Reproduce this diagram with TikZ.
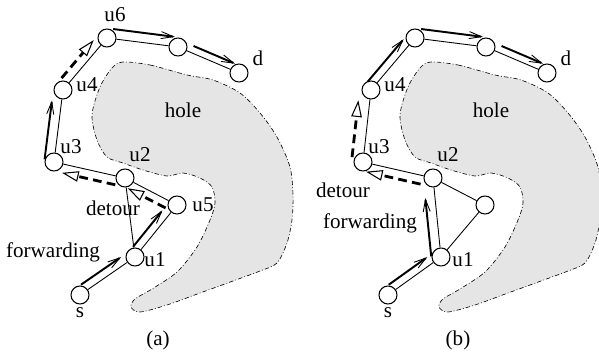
\documentclass[tikz,border=0pt]{standalone}
\usepackage{fontspec}
\setmainfont{Liberation Serif}
\usetikzlibrary{arrows.meta, calc}

\tikzset{
  sensor/.style={circle, draw, fill=white, line width=0.6pt, minimum size=0.36cm, inner sep=0pt},
  link/.style={line width=0.5pt},
  fwd/.style={line width=1.1pt, -{Straight Barb[length=7pt,width=4pt,line width=0.5pt]}},
  detourarrow/.style={line width=1.6pt, dash pattern=on 5pt off 3pt, -{Triangle[open,length=9.5pt,width=6pt,line width=0.6pt]}},
  holearea/.style={fill=black!10, draw, line width=0.35pt, dash pattern=on 2.5pt off 1.2pt on 0.5pt off 1.2pt},
  lbl/.style={font=\fontsize{12}{14}\selectfont, inner sep=0pt}
}

\begin{document}
\begin{tikzpicture}[x=0.02cm, y=-0.02cm]
  \useasboundingbox (0,0) rectangle (599,354);

  % (a) hole
  \draw[holearea] plot[smooth cycle] coordinates {(123,62) (150,65) (187,75) (213,80) (240,93) (260,113) (277,137) (290,167) (293,195) (292,220) (287,243) (277,263) (260,271) (233,281) (200,293) (167,305) (140,312) (131,307) (135,299) (152,289) (177,272) (197,247) (210,220) (215,203) (212,187) (200,178) (183,173) (167,176) (143,170) (123,163) (107,157) (97,140) (92,115) (100,87) (112,68)};

  % (a) nodes
  \node[sensor] (s-a) at (80,295) {};
  \node[sensor] (u1-a) at (135,257) {};
  \node[sensor] (u5-a) at (177,205) {};
  \node[sensor] (u2-a) at (125,178) {};
  \node[sensor] (u3-a) at (54,162) {};
  \node[sensor] (u4-a) at (63,90) {};
  \node[sensor] (u6-a) at (107,38) {};
  \node[sensor] (u7-a) at (178,47) {};
  \node[sensor] (d-a) at (239,73) {};

  % (a) links
  \draw[link] (s-a) -- (u1-a);
  \draw[link] (u1-a) -- (u5-a);
  \draw[link] (u1-a) -- (u2-a);
  \draw[link] (u2-a) -- (u5-a);
  \draw[link] (u2-a) -- (u3-a);
  \draw[link] (u3-a) -- (u4-a);
  \draw[link] (u4-a) -- (u6-a);
  \draw[link] (u6-a) -- (u7-a);
  \draw[link] (u7-a) -- (d-a);

  % (a) route
  \draw[fwd] ($(s-a)!0.1!(u1-a)!4.5pt!90:(u1-a)$) -- ($(s-a)!0.83!(u1-a)!4.5pt!90:(u1-a)$);
  \draw[fwd] ($(u1-a)!0.1!(u5-a)!4.5pt!90:(u5-a)$) -- ($(u1-a)!0.8!(u5-a)!4.5pt!90:(u5-a)$);
  \draw[detourarrow] ($(u5-a)!0.15!(u2-a)!4.5pt!90:(u2-a)$) -- ($(u5-a)!0.88!(u2-a)!4.5pt!90:(u2-a)$);
  \draw[detourarrow] ($(u2-a)!0.11!(u3-a)!5pt!90:(u3-a)$) -- ($(u2-a)!0.86!(u3-a)!5pt!90:(u3-a)$);
  \draw[fwd] ($(u3-a)!0.02!(u4-a)!5.5pt!90:(u4-a)$) -- ($(u3-a)!0.84!(u4-a)!5.5pt!90:(u4-a)$);
  \draw[detourarrow] ($(u4-a)!0.12!(u6-a)!5pt!90:(u6-a)$) -- ($(u4-a)!0.85!(u6-a)!5pt!90:(u6-a)$);
  \draw[fwd] ($(u6-a)!0.07!(u7-a)!5.5pt!90:(u7-a)$) -- ($(u6-a)!0.94!(u7-a)!5.5pt!90:(u7-a)$);
  \draw[fwd] ($(u7-a)!0.21!(d-a)!4pt!90:(d-a)$) -- ($(u7-a)!0.89!(d-a)!4pt!90:(d-a)$);

  % (a) labels
  \node[lbl] at (115,15) {u6};
  \node[lbl] at (258,58) {d};
  \node[lbl] at (87,85) {u4};
  \node[lbl] at (183,110) {hole};
  \node[lbl] at (71,147) {u3};
  \node[lbl] at (140,155) {u2};
  \node[lbl] at (203,205) {u5};
  \node[lbl] at (113,208) {detour};
  \node[lbl] at (53,252) {forwarding};
  \node[lbl] at (155,260) {u1};
  \node[lbl] at (80,313) {s};
  \node[lbl] at (158,340) {(a)};

  \begin{scope}[shift={(308,0)}]
    % (b) hole
    \draw[holearea] plot[smooth cycle] coordinates {(123,62) (150,65) (187,75) (213,80) (240,93) (260,113) (277,137) (290,167) (293,195) (292,220) (287,243) (277,263) (260,271) (233,281) (200,293) (167,305) (140,312) (131,307) (135,299) (152,289) (177,272) (197,247) (210,220) (215,203) (212,187) (200,178) (183,173) (167,176) (143,170) (123,163) (107,157) (97,140) (92,115) (100,87) (112,68)};

    % (b) nodes
    \node[sensor] (s-b) at (80,295) {};
    \node[sensor] (u1-b) at (133,257) {};
    \node[sensor] (u5-b) at (177,205) {};
    \node[sensor] (u2-b) at (125,178) {};
    \node[sensor] (u3-b) at (55,162) {};
    \node[sensor] (u4-b) at (63,90) {};
    \node[sensor] (u6-b) at (107,38) {};
    \node[sensor] (u7-b) at (178,47) {};
    \node[sensor] (d-b) at (239,73) {};

    % (b) links
    \draw[link] (s-b) -- (u1-b);
    \draw[link] (u1-b) -- (u5-b);
    \draw[link] (u1-b) -- (u2-b);
    \draw[link] (u2-b) -- (u5-b);
    \draw[link] (u2-b) -- (u3-b);
    \draw[link] (u3-b) -- (u4-b);
    \draw[link] (u4-b) -- (u6-b);
    \draw[link] (u6-b) -- (u7-b);
    \draw[link] (u7-b) -- (d-b);

    % (b) route
    \draw[fwd] ($(s-b)!0.1!(u1-b)!4.5pt!90:(u1-b)$) -- ($(s-b)!0.83!(u1-b)!4.5pt!90:(u1-b)$);
    \draw[fwd] ($(u1-b)!0.02!(u2-b)!5.5pt!90:(u2-b)$) -- ($(u1-b)!0.76!(u2-b)!5.5pt!90:(u2-b)$);
    \draw[detourarrow] ($(u2-b)!0.15!(u3-b)!5pt!90:(u3-b)$) -- ($(u2-b)!0.93!(u3-b)!5pt!90:(u3-b)$);
    \draw[detourarrow] ($(u3-b)!0.05!(u4-b)!6.5pt!90:(u4-b)$) -- ($(u3-b)!0.84!(u4-b)!6.5pt!90:(u4-b)$);
    \draw[fwd] ($(u4-b)!0.06!(u6-b)!4.5pt!90:(u6-b)$) -- ($(u4-b)!0.88!(u6-b)!4.5pt!90:(u6-b)$);
    \draw[fwd] ($(u6-b)!0.07!(u7-b)!5.5pt!90:(u7-b)$) -- ($(u6-b)!0.94!(u7-b)!5.5pt!90:(u7-b)$);
    \draw[fwd] ($(u7-b)!0.21!(d-b)!4pt!90:(d-b)$) -- ($(u7-b)!0.89!(d-b)!4pt!90:(d-b)$);

    % (b) labels
    \node[lbl] at (258,58) {d};
    \node[lbl] at (87,85) {u4};
    \node[lbl] at (183,110) {hole};
    \node[lbl] at (71,147) {u3};
    \node[lbl] at (140,155) {u2};
    \node[lbl] at (35,190) {detour};
    \node[lbl] at (62,223) {forwarding};
    \node[lbl] at (155,260) {u1};
    \node[lbl] at (80,313) {s};
    \node[lbl] at (150,340) {(b)};
  \end{scope}
\end{tikzpicture}
\end{document}
